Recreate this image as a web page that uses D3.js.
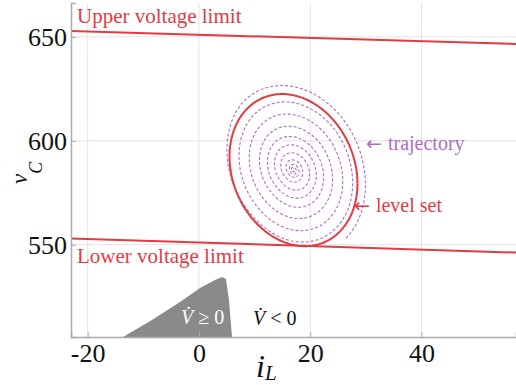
<!DOCTYPE html>
<html>
<head>
<meta charset="utf-8">
<script src="https://cdn.jsdelivr.net/npm/d3@7"></script>
<style>
  body { margin: 0; background: #fff; }
  svg { display: block; }
</style>
</head>
<body>
<svg id="chart" width="516" height="385"></svg>
<script>
// values
const xDomain = [-23, 57]
const yDomain = [505.6, 666.3]
const xTicks = [-20, 0, 20, 40]
const yTicks = [550, 600, 650]

// voltage limits, given at the two ends of the x range
const limitX = [-23, 57]
const upperLimit = [652.8, 646.6]
const lowerLimit = [553.0, 546.2]

// V-dot >= 0 region (grey)
const regionX = [-13.65, -8.44, -3.4, 0.19, 2.89, 4.15, 4.87, 5.4, 5.94]
const regionY = [505.6, 513.8, 522.4, 529.2, 533.0, 534.5, 533.5, 523.4, 505.6]

// level set ellipse: centre, half widths, tilt phase
const levelCenter = [17.0, 585.9]
const levelAxes = [11.5, 36.6]
const levelPhase = 1.75

// trajectory: relative size of the spiral at each quarter turn, outside in
const trajStart = 0.75
const trajScale = [1.12, 1.13, 1.1, 0.97, 0.93, 0.92, 0.88, 0.82, 0.78, 0.76, 0.72, 0.66, 0.62, 0.6, 0.56,
  0.5, 0.48, 0.46, 0.43, 0.38, 0.36, 0.35, 0.32, 0.27, 0.26, 0.24, 0.22, 0.17, 0.15, 0.14, 0.13, 0.1,
  0.09, 0.08, 0.07, 0.055, 0.05, 0.04, 0.035, 0.025, 0.02, 0.015, 0.01]

const red = '#e33b43'
const purple = '#b16cc0'
const serif = "'Liberation Serif', serif"

const svg = d3.select('#chart')
const x = d3.scaleLinear(xDomain, [71, 516])
const y = d3.scaleLinear(yDomain, [337, 3])

// grid
svg.append('g').selectAll('line').data(xTicks).join('line')
  .attr('x1', d => x(d)).attr('x2', d => x(d))
  .attr('y1', y.range()[0]).attr('y2', y.range()[1])
  .attr('stroke', '#e4e4e4').attr('stroke-width', 1)
svg.append('g').selectAll('line').data(yTicks).join('line')
  .attr('y1', d => y(d)).attr('y2', d => y(d))
  .attr('x1', x.range()[0]).attr('x2', x.range()[1])
  .attr('stroke', '#e4e4e4').attr('stroke-width', 1)

// grey region
const region = regionX.map((v, i) => [v, regionY[i]])
svg.append('path')
  .attr('d', d3.line().x(d => x(d[0])).y(d => y(d[1]))(region) + 'Z')
  .attr('fill', '#8a8a8a')

// trajectory spiral
const traj = []
const q = Math.PI / 2
for (let k = 0; k < trajScale.length - 1; k++) {
  for (let j = 0; j < 24; j++) {
    const f = j / 24
    const t = trajStart - (k + f) * q
    const s = trajScale[k] + (trajScale[k + 1] - trajScale[k]) * f
    traj.push([levelCenter[0] + s * levelAxes[0] * Math.cos(t),
      levelCenter[1] + s * levelAxes[1] * Math.cos(t + levelPhase)])
  }
}
svg.append('path')
  .attr('d', d3.line().x(d => x(d[0])).y(d => y(d[1]))(traj))
  .attr('fill', 'none').attr('stroke', purple)
  .attr('stroke-width', 1.1).attr('stroke-dasharray', '3,2')

// level set
const level = d3.range(0, 2 * Math.PI + 0.01, 0.02).map(t => [
  levelCenter[0] + levelAxes[0] * Math.cos(t),
  levelCenter[1] + levelAxes[1] * Math.cos(t + levelPhase)])
svg.append('path')
  .attr('d', d3.line().x(d => x(d[0])).y(d => y(d[1]))(level))
  .attr('fill', 'none').attr('stroke', red).attr('stroke-width', 2)

// limits
for (const lim of [upperLimit, lowerLimit]) {
  svg.append('line')
    .attr('x1', x(limitX[0])).attr('y1', y(lim[0]))
    .attr('x2', x(limitX[1])).attr('y2', y(lim[1]))
    .attr('stroke', red).attr('stroke-width', 2)
}

// axes
const ax = svg.append('g').attr('transform', 'translate(0,337)')
  .call(d3.axisBottom(x).tickValues(xTicks).tickSize(-5).tickPadding(7).tickFormat(d => String(d)))
const ay = svg.append('g').attr('transform', 'translate(71,0)')
  .call(d3.axisLeft(y).tickValues(yTicks).tickSize(-5).tickPadding(4).tickFormat(d => String(d)))
for (const a of [ax, ay]) {
  a.select('.domain').attr('stroke', '#aaa').attr('stroke-width', 1.5)
  a.selectAll('.tick line').attr('stroke', '#aaa')
  a.selectAll('.tick text').attr('font-size', 26).attr('fill', '#111')
}
ay.selectAll('.tick text').attr('dy', '0.34em')

// axis labels
const il = svg.append('text').attr('x', 256).attr('y', 377).attr('font-style', 'italic').attr('fill', '#111')
il.append('tspan').attr('font-size', 32).text('i')
il.append('tspan').attr('font-size', 21).attr('dy', 3).text('L')

const vl = svg.append('text').attr('transform', 'translate(27,184) rotate(-90)')
  .attr('font-style', 'italic').attr('fill', '#111')
vl.append('tspan').attr('font-size', 23).text('v')
vl.append('tspan').attr('font-size', 18).attr('dy', 15).text('C')

// annotations
svg.append('text').attr('x', 77).attr('y', 23).attr('font-size', 21).attr('fill', red).text('Upper voltage limit')
svg.append('text').attr('x', 77).attr('y', 263).attr('font-size', 21).attr('fill', red).text('Lower voltage limit')

const tr = svg.append('text').attr('x', 366).attr('y', 150).attr('font-size', 20).attr('fill', purple)
tr.append('tspan').attr('class', 'arrow').attr('font-size', 19).text('←')
tr.append('tspan').attr('dx', 6).text('trajectory')
const ls = svg.append('text').attr('x', 354).attr('y', 212).attr('font-size', 20).attr('fill', red)
ls.append('tspan').attr('class', 'arrow').attr('font-size', 19).text('←')
ls.append('tspan').attr('dx', 6).text('level set')

const vp = svg.append('text').attr('x', 181).attr('y', 324).attr('font-size', 20).attr('fill', '#fff')
vp.append('tspan').attr('font-style', 'italic').text('V\u0307')
vp.append('tspan').text(' \u2265 0')
const vn = svg.append('text').attr('x', 253).attr('y', 325).attr('font-size', 20).attr('fill', '#111')
vn.append('tspan').attr('font-style', 'italic').text('V\u0307')
vn.append('tspan').text(' < 0')

// fonts inline so the axis defaults do not win
svg.selectAll('text, tspan').style('font-family', serif)
svg.selectAll('tspan.arrow').style('font-family', "'DejaVu Sans', sans-serif")
</script>
</body>
</html>
